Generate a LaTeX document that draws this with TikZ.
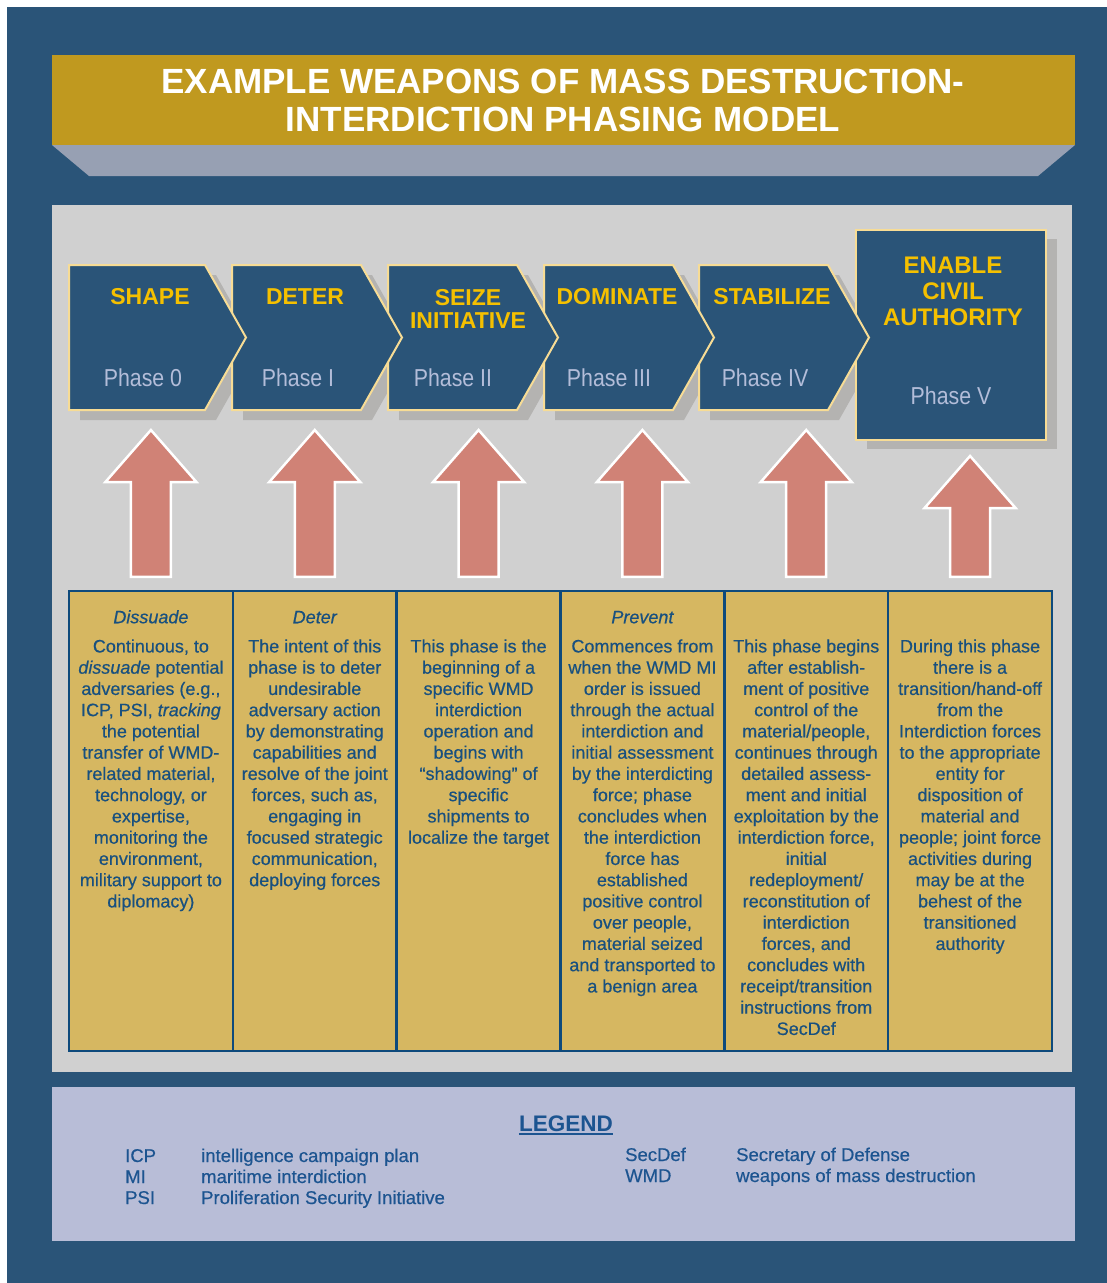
\documentclass[tikz,border=0pt]{standalone}
\usepackage{fontspec}
\setmainfont{Liberation Sans}
\newfontfamily\narrowfont[FakeStretch=0.87]{Liberation Sans}
\newfontfamily\bodyfont[FakeBold=0.5,Ligatures=TeX]{Liberation Sans}
\usetikzlibrary{positioning,calc}

\definecolor{wmdblue}{HTML}{2A5478}
\definecolor{bandgold}{HTML}{C0991F}
\definecolor{bandgray}{HTML}{97A0B3}
\definecolor{panelgray}{HTML}{D0D0D0}
\definecolor{shadowgray}{HTML}{B4B3B1}
\definecolor{chevline}{HTML}{F7DC95}
\definecolor{headyellow}{HTML}{F5C000}
\definecolor{phasetext}{HTML}{B3BDD9}
\definecolor{cellgold}{HTML}{D6B761}
\definecolor{cellblue}{HTML}{0E4A7C}
\definecolor{bodyblue}{HTML}{18507F}
\definecolor{liftred}{HTML}{D08276}
\definecolor{legendbg}{HTML}{B8BDD7}
\definecolor{legendblue}{HTML}{1C5490}

% block arrow from a text column up to its phase
\newcommand{\pharrow}[3][20]{%
  \filldraw[lift] let \p1=(#2.north), \p2=(#3) in
    (\x1,\y2-#1pt) -- ++(45.5,52) -- ++(-25.5,0) -- (\x1+20pt,\y1+13pt)
    -- (\x1-20pt,\y1+13pt) -- (\x1-20pt,\y2-#1pt-52pt) -- (\x1-45.5pt,\y2-#1pt-52pt) -- cycle;}

\begin{document}
\begin{tikzpicture}[x=1pt,y=-1pt,
    title/.style={text=white, align=center, inner sep=0pt,
                font=\bfseries\fontsize{35}{38.5}\selectfont},
    chev/.style={fill=wmdblue, draw=chevline, line width=2pt, line join=miter},
    phasebox/.style={rectangle, fill=wmdblue, draw=chevline, line width=2pt,
                minimum width=190pt, minimum height=210pt, inner sep=0pt},
    head/.style={text=headyellow, align=center, inner sep=0pt,
                font=\bfseries\fontsize{23}{23}\selectfont},
    phaselbl/.style={text=phasetext, inner sep=0pt,
                font=\narrowfont\fontsize{24.5}{26}\selectfont},
    cell/.style={rectangle, fill=cellgold, draw=cellblue, line width=2.5pt,
                minimum width=163.83pt, minimum height=460pt, inner sep=0pt},
    celltitle/.style={text=bodyblue, anchor=base, inner sep=0pt,
                font=\bodyfont\itshape\fontsize{18}{21.25}\selectfont},
    celltext/.style={text=bodyblue, align=center, anchor=north, inner sep=0pt,
                font=\bodyfont\fontsize{18}{21.25}\selectfont},
    lift/.style={fill=liftred, draw=white, line width=2.5pt, line join=miter},
    lgd/.style={text=legendblue, anchor=base west, inner sep=0pt,
                font=\bodyfont\fontsize{18.5}{21}\selectfont}]

\useasboundingbox (0,0) rectangle (1107,1283);
\fill[wmdblue] (7,7) rectangle (1107,1283);

% title band
\fill[bandgold] (52,55) rectangle (1075,145);
\fill[bandgray] (52,145) -- (1075,145) -- (1038,176) -- (89,176) -- cycle;
\node[title] (title) at (563,100.5) {EXAMPLE WEAPONS OF MASS DESTRUCTION-\\INTERDICTION PHASING MODEL};

\fill[panelgray] (52,205) rectangle (1072,1072);
\fill[legendbg] (52,1087) rectangle (1075,1241);

% phases
\foreach \l/\w in {69/136,232/129,388/129,544/129,699/129}
  \fill[shadowgray] (\l+11,275) -- ++(\w,0) -- ++(41,72.5) -- ++(-41,72.5) -- ++(-\w,0) -- cycle;
\fill[shadowgray] (867,239) rectangle (1057,449);
\node[phasebox] (ph5) at (951,335) {};
\foreach \l/\w/\i in {699/129/4,544/129/3,388/129/2,232/129/1,69/136/0}{
  \draw[chev] (\l,265) -- ++(\w,0) -- ++(41,72.5) -- ++(-41,72.5) -- ++(-\w,0) -- cycle;
  \coordinate (ph\i) at (\l+\w/2,410);
}

\node[head] (hd0) at (150,297) {SHAPE};
\node[head] (hd1) at (305,297) {DETER};
\node[head] (hd2) at (468,308.5) {SEIZE\\INITIATIVE};
\node[head] (hd3) at (617,297) {DOMINATE};
\node[head] (hd4) at (772,297) {STABILIZE};
\node[head, font=\bfseries\fontsize{24}{26}\selectfont] (hd5) at (953,291) {ENABLE\\CIVIL\\AUTHORITY};

\node[phaselbl] (lb0) at (143,378) {Phase 0};
\node[phaselbl] (lb1) at (298,378) {Phase I};
\node[phaselbl] (lb2) at (453,378) {Phase II};
\node[phaselbl] (lb3) at (609,378) {Phase III};
\node[phaselbl] (lb4) at (765,378) {Phase IV};
\node[phaselbl] (lb5) at (951,396) {Phase V};

% text columns
\foreach \i in {0,...,5}
  \node[cell] (box\i) at (150.92+163.83*\i,821) {};

\foreach \i in {0,...,4}
  \pharrow{box\i}{ph\i};
\pharrow[15]{box5}{ph5.south};

\node[celltitle] (ct0) at ([yshift=-33.5pt]box0.north) {Dissuade};
\node[celltitle] (ct1) at ([yshift=-33.5pt]box1.north) {Deter};
\node[celltitle] (ct3) at ([yshift=-33.5pt]box3.north) {Prevent};

\node[celltext] (tx0) at ([yshift=-47.6pt]box0.north) {\strut Continuous, to\\
  \textit{dissuade} potential\\adversaries (e.g.,\\ICP, PSI, \textit{tracking}\\
  the potential\\transfer of WMD-\\related material,\\technology, or\\expertise,\\
  monitoring the\\environment,\\military support to\\diplomacy)};
\node[celltext] (tx1) at ([yshift=-47.6pt]box1.north) {\strut The intent of this\\
  phase is to deter\\undesirable\\adversary action\\by demonstrating\\
  capabilities and\\resolve of the joint\\forces, such as,\\engaging in\\
  focused strategic\\communication,\\deploying forces};
\node[celltext] (tx2) at ([yshift=-47.6pt]box2.north) {\strut This phase is the\\
  beginning of a\\specific WMD\\interdiction\\operation and\\begins with\\
  “shadowing” of\\specific\\shipments to\\localize the target};
\node[celltext] (tx3) at ([yshift=-47.6pt]box3.north) {\strut Commences from\\
  when the WMD MI\\order is issued\\through the actual\\interdiction and\\
  initial assessment\\by the interdicting\\force; phase\\concludes when\\
  the interdiction\\force has\\established\\positive control\\over people,\\
  material seized\\and transported to\\a benign area};
\node[celltext] (tx4) at ([yshift=-47.6pt]box4.north) {\strut This phase begins\\
  after establish-\\ment of positive\\control of the\\material/people,\\
  continues through\\detailed assess-\\ment and initial\\exploitation by the\\
  interdiction force,\\initial\\redeployment/\\reconstitution of\\interdiction\\
  forces, and\\concludes with\\receipt/transition\\instructions from\\SecDef};
\node[celltext] (tx5) at ([yshift=-47.6pt]box5.north) {\strut During this phase\\
  there is a\\transition/hand-off\\from the\\Interdiction forces\\
  to the appropriate\\entity for\\disposition of\\material and\\
  people; joint force\\activities during\\may be at the\\behest of the\\
  transitioned\\authority};

% legend
\node[text=legendblue, anchor=base, inner sep=0pt,
      font=\bfseries\fontsize{22.5}{22.5}\selectfont] (lgdhead) at (566,1131) {LEGEND};
\draw[legendblue, line width=2pt] ([yshift=-3pt]lgdhead.base west) -- ([yshift=-3pt]lgdhead.base east);

\node[lgd] (ab1) at (125,1162) {ICP};
\node[lgd] (ab2) at (125,1183) {MI};
\node[lgd] (ab3) at (125,1204) {PSI};
\node[lgd] (df1) at (201,1162) {intelligence campaign plan};
\node[lgd] (df2) at (201,1183) {maritime interdiction};
\node[lgd] (df3) at (201,1204) {Proliferation Security Initiative};
\node[lgd] (ab4) at (625,1161) {SecDef};
\node[lgd] (ab5) at (625,1182) {WMD};
\node[lgd] (df4) at (736,1161) {Secretary of Defense};
\node[lgd] (df5) at (736,1182) {weapons of mass destruction};
\end{tikzpicture}
\end{document}
